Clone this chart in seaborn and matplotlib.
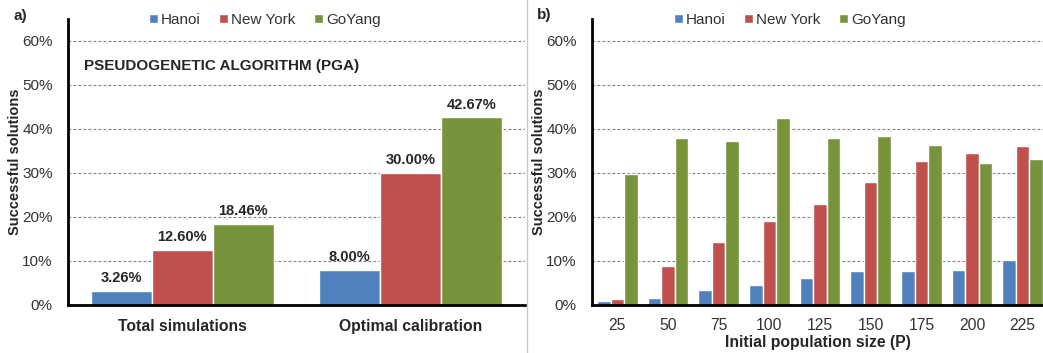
import matplotlib
matplotlib.use("Agg")
import matplotlib.pyplot as plt
from matplotlib.ticker import PercentFormatter
from matplotlib.lines import Line2D
import seaborn as sns
import pandas as pd

# ---- data ----
networks = ["Hanoi", "New York", "GoYang"]
colors = ["#4F81BD", "#C0504D", "#77933C"]

a_categories = ["Total simulations", "Optimal calibration"]
a_hanoi = [3.26, 8.00]
a_newyork = [12.60, 30.00]
a_goyang = [18.46, 42.67]

b_sizes = ["25", "50", "75", "100", "125", "150", "175", "200", "225"]
b_hanoi = [0.8, 1.6, 3.4, 4.6, 6.1, 7.8, 7.8, 8.0, 10.3]
b_newyork = [1.4, 8.8, 14.3, 19.0, 23.0, 27.9, 32.7, 34.5, 36.2]
b_goyang = [29.8, 37.9, 37.2, 42.6, 37.9, 38.5, 36.4, 32.3, 33.2]

yticks = [0, 10, 20, 30, 40, 50, 60]

df_a = pd.DataFrame({
    "cat": a_categories * 3,
    "net": [n for n in networks for _ in a_categories],
    "val": a_hanoi + a_newyork + a_goyang,
})
df_b = pd.DataFrame({
    "cat": b_sizes * 3,
    "net": [n for n in networks for _ in b_sizes],
    "val": b_hanoi + b_newyork + b_goyang,
})

sns.set_style("white")
plt.rcParams["font.family"] = ["Liberation Sans", "DejaVu Sans"]

W, H = 1043, 353
fig = plt.figure(figsize=(W / 100, H / 100), dpi=100)

bottom = 48 / H
height = (305 - 19) / H
ax_a = fig.add_axes([68 / W, bottom, (525 - 68) / W, height])
ax_b = fig.add_axes([592 / W, bottom, (W - 592) / W, height])

palette = dict(zip(networks, colors))


def style_axes(ax):
    ax.set_ylim(0, 65)
    ax.set_yticks(yticks)
    ax.yaxis.set_major_formatter(PercentFormatter(100, decimals=0))
    for s in ["top", "right"]:
        ax.spines[s].set_visible(False)
    for s in ["left", "bottom"]:
        ax.spines[s].set_color("black")
        ax.spines[s].set_linewidth(2)
    ax.tick_params(axis="x", length=0)
    ax.tick_params(axis="y", length=3, width=1.5, color="black", pad=8,
                   labelsize=11, labelcolor="#333333")
    for y in yticks[1:]:
        ax.axhline(y, color="#7f7f7f", lw=0.8, ls=(0, (2.5, 2)), zorder=0)
    ax.set_ylabel("Successful solutions", fontsize=10.5, fontweight="bold",
                  labelpad=0)


# ---- panel a ----
sns.barplot(data=df_a, x="cat", y="val", hue="net", hue_order=networks,
            order=a_categories, palette=palette, width=0.8, saturation=1,
            ax=ax_a, legend=True, zorder=2)
handles, labels = ax_a.get_legend_handles_labels()
ax_a.get_legend().remove()
style_axes(ax_a)
ax_a.set_xlim(-0.5, 1.5)
ax_a.set_xlabel("")
ax_a.tick_params(axis="x", pad=10, labelsize=11.3)
for t in ax_a.get_xticklabels():
    t.set_fontweight("bold")
for cont in ax_a.containers:
    ax_a.bar_label(cont, labels=[f"{v:.2f}%" for v in cont.datavalues],
                   padding=4, fontsize=10.5, fontweight="bold")
ax_a.text(-0.43, 54.3, "PSEUDOGENETIC ALGORITHM (PGA)", fontsize=11,
          fontweight="bold", va="center", ha="left")

# ---- panel b ----
sns.barplot(data=df_b, x="cat", y="val", hue="net", hue_order=networks,
            order=b_sizes, palette=palette, width=0.8, saturation=1,
            ax=ax_b, legend=False, zorder=2)
style_axes(ax_b)
ax_b.set_xlim(-0.5, 8.4)
ax_b.set_xlabel("Initial population size (P)", fontsize=11.3,
                fontweight="bold", labelpad=2)
ax_b.tick_params(axis="x", pad=9, labelsize=11.3, labelcolor="#333333")

# ---- legends ----
for xc in (265 / W, 790 / W):
    fig.legend(handles, labels, loc="center", bbox_to_anchor=(xc, 1 - 20 / H),
               ncol=3, frameon=False, fontsize=11, handlelength=0.6,
               handleheight=0.6, handletextpad=0.2, columnspacing=1.2,
               borderaxespad=0, labelcolor="#333333")

# ---- panel letters and separator ----
fig.text(13 / W, 1 - 16 / H, "a)", fontsize=11, fontweight="bold", va="center")
fig.text(537 / W, 1 - 15 / H, "b)", fontsize=11, fontweight="bold", va="center")
fig.add_artist(Line2D([527 / W, 527 / W], [0, 1], color="#c8c8c8", lw=1,
                      transform=fig.transFigure))

fig.savefig("out.png", dpi=100)
